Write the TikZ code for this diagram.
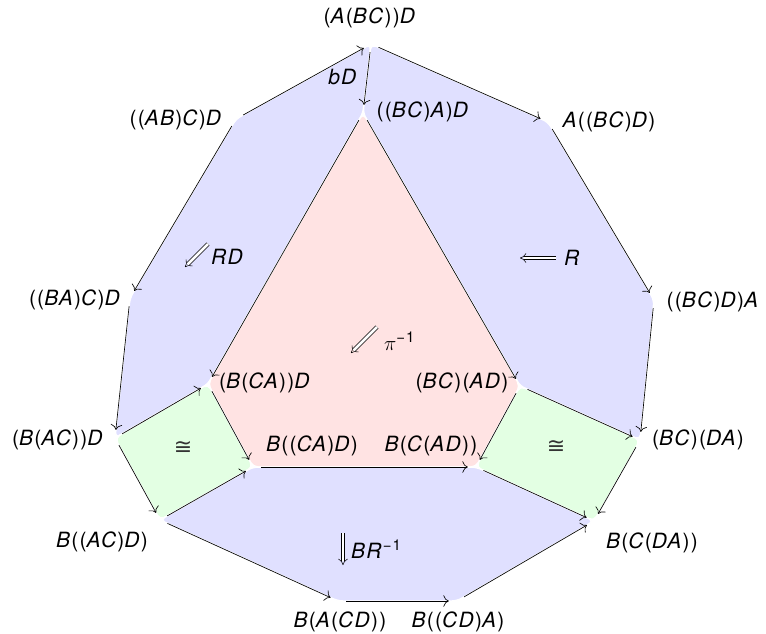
\documentclass[tikz,border=0pt]{standalone}
\usepackage{fontspec}
\newfontfamily\lab[LetterSpace=6]{TeX Gyre Heros}
\newfontfamily\symf{DejaVu Sans}
\usetikzlibrary{arrows.meta}
\newcommand\I[1]{\textit{#1}}
\newcommand\sups[1]{\raisebox{0.75ex}{\fontsize{15}{15}\selectfont #1}}
\begin{document}
\begin{tikzpicture}[x=1pt,y=-1pt,
  vtx/.style={circle,inner sep=0pt,minimum size=16pt},
  lbl/.style={font=\lab\fontsize{21}{23}\selectfont, inner sep=0pt},
  arr/.style={-{To[scale=1.8]}, line width=0.65pt},
  dbl/.style={double, double distance=2.8pt, line width=0.55pt, -{Implies[scale=1.1]}},
  reg/.style={draw=white, line width=1.5pt, rounded corners=5pt}]
\useasboundingbox (0,0) rectangle (766,634);
% vertices
\node[vtx] (v1) at (371,44) {};
\node[vtx] (v2) at (363,113) {};
\node[vtx] (v3) at (548,122) {};
\node[vtx] (v4) at (236,119) {};
\node[vtx] (v5) at (654,300) {};
\node[vtx] (v6) at (130,298) {};
\node[vtx] (v7) at (208,384) {};
\node[vtx] (v8) at (520,386) {};
\node[vtx] (v9) at (115,438) {};
\node[vtx] (v10) at (640,440) {};
\node[vtx] (v11) at (253,467) {};
\node[vtx] (v12) at (476,467) {};
\node[vtx] (v13) at (160,520) {};
\node[vtx] (v14) at (594,521) {};
\node[vtx] (v15) at (338,601) {};
\node[vtx] (v16) at (457,601) {};
% regions
\path[reg, fill=blue!12] (v1.center) -- (v2.center) -- (v7.center) -- (v9.center) -- (v6.center) -- (v4.center) -- cycle;
\path[reg, fill=blue!12] (v1.center) -- (v3.center) -- (v5.center) -- (v10.center) -- (v8.center) -- (v2.center) -- cycle;
\path[reg, fill=red!11] (v2.center) -- (v8.center) -- (v12.center) -- (v11.center) -- (v7.center) -- cycle;
\path[reg, fill=green!11] (v9.center) -- (v7.center) -- (v11.center) -- (v13.center) -- cycle;
\path[reg, fill=green!11] (v8.center) -- (v10.center) -- (v14.center) -- (v12.center) -- cycle;
\path[reg, fill=blue!12] (v13.center) -- (v11.center) -- (v12.center) -- (v14.center) -- (v16.center) -- (v15.center) -- cycle;
% labels
\node[lbl] (l1) at (370,18) {(\I{A}(\I{BC}))\I{D}};
\node[lbl] (l2) at (423,112) {((\I{BC})\I{A})\I{D}};
\node[lbl] (l3) at (609,122) {\I{A}((\I{BC})\I{D})};
\node[lbl] (l4) at (176,120) {((\I{AB})\I{C})\I{D}};
\node[lbl] (l5) at (713,302) {((\I{BC})\I{D})\I{A}};
\node[lbl] (l6) at (75,300) {((\I{BA})\I{C})\I{D}};
\node[lbl] (l7) at (265,383) {(\I{B}(\I{CA}))\I{D}};
\node[lbl] (l8) at (462,383) {(\I{BC})(\I{AD})};
\node[lbl] (l9) at (58,440) {(\I{B}(\I{AC}))\I{D}};
\node[lbl] (l10) at (698,440) {(\I{BC})(\I{DA})};
\node[lbl] (l11) at (312,446) {\I{B}((\I{CA})\I{D})};
\node[lbl] (l12) at (431,446) {\I{B}(\I{C}(\I{AD}))};
\node[lbl] (l13) at (102,542) {\I{B}((\I{AC})\I{D})};
\node[lbl] (l14) at (652,543) {\I{B}(\I{C}(\I{DA}))};
\node[lbl] (l15) at (340,622) {\I{B}(\I{A}(\I{CD}))};
\node[lbl] (l16) at (458,622) {\I{B}((\I{CD})\I{A})};
\node[lbl] (bd) at (343,77) {\I{bD}};
% arrows
\draw[arr] (v4) -- (v1);
\draw[arr] (v1) -- (v2);
\draw[arr] (v1) -- (v3);
\draw[arr] (v4) -- (v6);
\draw[arr] (v3) -- (v5);
\draw[arr] (v2) -- (v7);
\draw[arr] (v2) -- (v8);
\draw[arr] (v6) -- (v9);
\draw[arr] (v5) -- (v10);
\draw[arr] (v9) -- (v7);
\draw[arr] (v7) -- (v11);
\draw[arr] (v9) -- (v13);
\draw[arr] (v13) -- (v11);
\draw[arr] (v11) -- (v12);
\draw[arr] (v8) -- (v10);
\draw[arr] (v8) -- (v12);
\draw[arr] (v12) -- (v14);
\draw[arr] (v10) -- (v14);
\draw[arr] (v13) -- (v15);
\draw[arr] (v15) -- (v16);
\draw[arr] (v16) -- (v14);
% 2-cells
\draw[dbl] (208,244) -- (185,267);
\node[lbl, anchor=west] (t1) at (211,257) {\I{RD}};
\draw[dbl] (556,258) -- (520,258);
\node[lbl, anchor=west] (t2) at (564,258) {\I{R}};
\draw[dbl] (377,327) -- (351,353);
\node[lbl, anchor=west] (t3) at (384,341) {$\pi$\sups{−1}};
\draw[dbl] (343,533) -- (343,565);
\node[lbl, anchor=west] (t4) at (351,549) {\I{BR}\sups{−1}};
\node[font=\symf\fontsize{22}{24}\selectfont, text=black!80, inner sep=0pt] (c1) at (183,448) {≅};
\node[font=\symf\fontsize{22}{24}\selectfont, text=black!80, inner sep=0pt] (c2) at (556,447) {≅};
\end{tikzpicture}
\end{document}
